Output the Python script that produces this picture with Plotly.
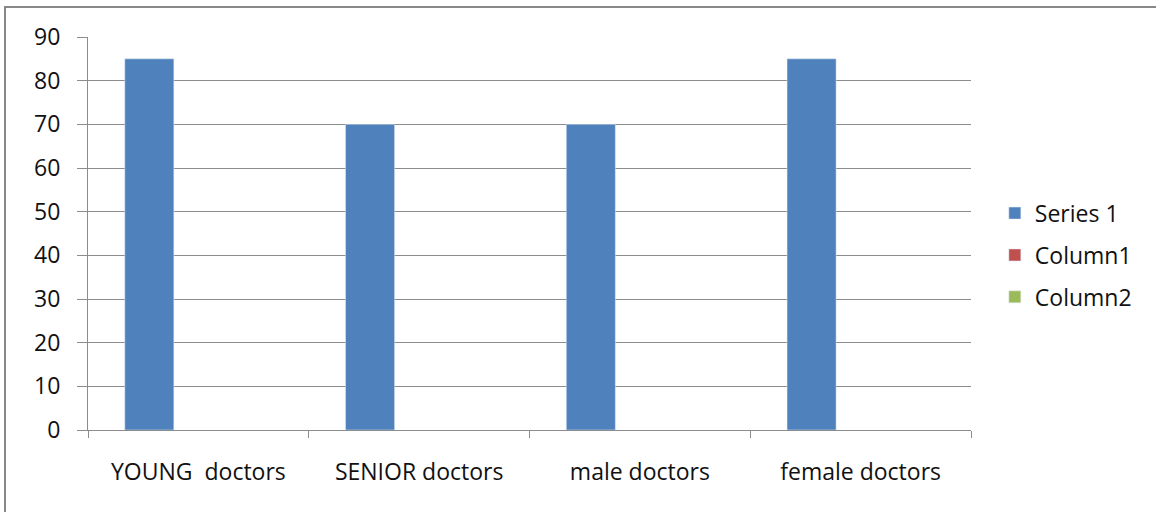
import plotly.graph_objects as go

categories = ["YOUNG  doctors", "SENIOR doctors", "male doctors", "female doctors"]
series1 = [85, 70, 70, 85]
column1 = [None, None, None, None]
column2 = [None, None, None, None]

FONT = "Open Sans"
GRID = "#8c8c8c"
FS = 23

fig = go.Figure()
fig.add_trace(go.Bar(name="Series 1", x=categories, y=series1, marker_color="#4f81bd", legendgroup="a"))
fig.add_trace(go.Bar(name="Column1", x=categories, y=column1, marker_color="#c0504d", legendgroup="b"))
fig.add_trace(go.Bar(name="Column2", x=categories, y=column2, marker_color="#9bbb59", legendgroup="c"))

L, R, T, B = 88, 971, 37, 430
W, H = 1156, 512

fig.update_layout(
    width=W, height=H,
    margin=dict(l=L, r=W - R, t=T, b=H - B, pad=0),
    paper_bgcolor="white", plot_bgcolor="white",
    barmode="group", bargap=1/3, bargroupgap=0,
    font=dict(family=FONT, size=FS, color="#111"),
    showlegend=True,
    legend=dict(x=1.027, y=0.445, xanchor="left", yanchor="middle",
                font=dict(size=FS, family=FONT), tracegroupgap=9,
                itemwidth=30, bgcolor="rgba(0,0,0,0)"),
    xaxis=dict(type="category", range=[-0.5, 3.5], tickson="boundaries",
               ticks="outside", ticklen=7, tickcolor=GRID, showline=True,
               linecolor=GRID, linewidth=1, showgrid=False,
               ticklabelstandoff=21, tickfont=dict(size=FS, family=FONT)),
    yaxis=dict(range=[0, 90], dtick=10, ticks="outside", ticklen=10,
               tickcolor=GRID, showline=True, linecolor=GRID, linewidth=1,
               showgrid=True, gridcolor=GRID, gridwidth=1, zeroline=False,
               ticklabelstandoff=12, tickfont=dict(size=FS, family=FONT)),
)

# outer chart-area border (top and left edges visible, rest cropped)
x0 = (5 - L) / (R - L)
y1 = (B - 7) / (B - T)
fig.add_shape(type="rect", xref="paper", yref="paper",
              x0=x0, x1=1.5, y0=-0.5, y1=y1,
              line=dict(color="#888888", width=2), layer="below")

fig.write_html("out.html")
